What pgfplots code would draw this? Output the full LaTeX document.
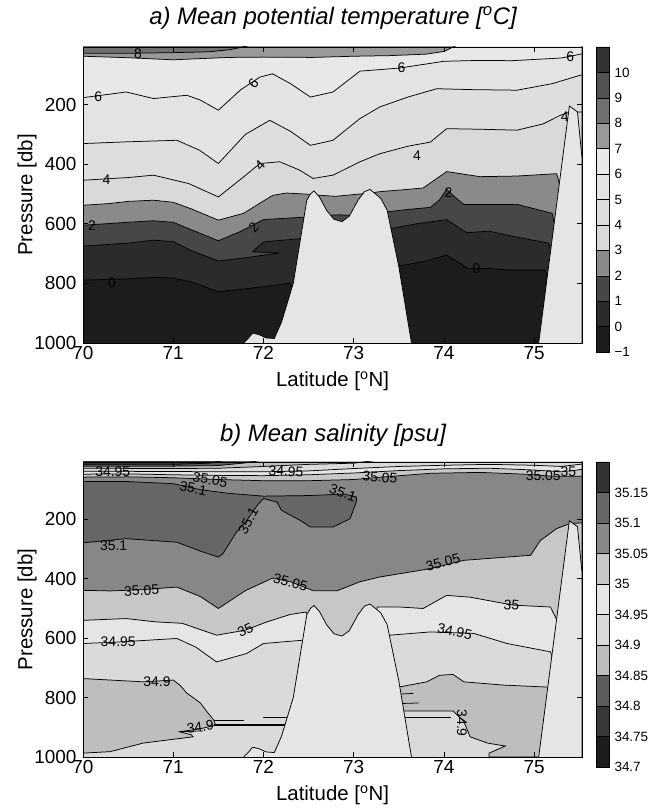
\documentclass[border=0pt]{standalone}
\usepackage{fontspec}
\setmainfont{Liberation Sans}
\usepackage{pgfplots}
\pgfplotsset{compat=1.18}

% temperature levels (lower bound of each band)
\definecolor{tm1}{gray}{0.11}
\definecolor{t0}{gray}{0.17}
\definecolor{t1}{gray}{0.28}
\definecolor{t2}{gray}{0.54}
\definecolor{t3}{gray}{0.85}
\definecolor{t4}{gray}{0.87}
\definecolor{t5}{gray}{0.89}
\definecolor{t6}{gray}{0.91}
\definecolor{t7}{gray}{0.60}
\definecolor{t8}{gray}{0.44}
\definecolor{t9}{gray}{0.32}
\definecolor{t10}{gray}{0.20}
% salinity levels
\definecolor{s700}{gray}{0.11}
\definecolor{s750}{gray}{0.22}
\definecolor{s800}{gray}{0.36}
\definecolor{s850}{gray}{0.745}
\definecolor{s900}{gray}{0.855}
\definecolor{s950}{gray}{0.90}
\definecolor{s000}{gray}{0.78}
\definecolor{s050}{gray}{0.53}
\definecolor{s100}{gray}{0.40}
\definecolor{s150}{gray}{0.20}
\definecolor{mtn}{gray}{0.90}

\newcommand\ticksize{\fontsize{19}{19}\selectfont}
\newcommand\labsize{\fontsize{20.5}{20.5}\selectfont}
\newcommand\clab{\fontsize{14}{14}\selectfont}

\pgfplotsset{
  sect/.style={
    width=499bp, height=296bp, scale only axis, anchor=center,
    xmin=70, xmax=75.53, ymin=7, ymax=1000, y dir=reverse,
    xtick={70,71,72,73,74,75}, ytick={200,400,600,800,1000},
    tick align=inside, major tick length=5bp,
    tick style={black, line width=0.6bp},
    axis line style={line width=0.8bp},
    axis on top,
    tick label style={font=\ticksize},
    yticklabel style={xshift=-3bp},
    /pgf/number format/assume math mode=true,
    /pgf/number format/1000 sep={},
    xlabel={Latitude [\textsuperscript{o}N]},
    ylabel={Pressure [db]},
    label style={font=\labsize},
    xlabel style={at={(axis description cs:0.5,-0.13)}, anchor=center},
    ylabel style={at={(axis description cs:-0.112,0.5)}, anchor=center},
  },
  lev/.style={fill=#1, draw=black, line width=0.75bp},
  cl/.style={draw=black, line width=0.75bp},
  cbar/.style={
    width=13bp, height=305bp, scale only axis, anchor=center,
    xmin=0, xmax=1, xtick=\empty, yticklabel pos=right,
    major tick length=0pt, axis line style={line width=0.6bp},
    tick label style={font=\fontsize{13.5}{13.5}\selectfont},
    yticklabel style={xshift=2bp},
  },
}

\begin{document}
\begin{tikzpicture}[x=1bp,y=1bp]
\path[use as bounding box] (0,0) rectangle (664,808);

% ---------------- a) temperature ----------------
\begin{axis}[sect, at={(332.5bp,613bp)}, axis background/.style={fill=tm1}]
\addplot[lev=t0] coordinates {(70,789) (70.5,785) (70.78,780) (71.0,782) (71.2,795) (71.5,828) (71.9,815) (72.29,800) (72.6,900) (73.4,900) (73.5,742) (73.8,725) (74.03,705) (74.27,750) (74.5,750) (74.7,755) (75.12,755) (75.3,900) (75.53,900) (75.53,-50) (70,-50)};
\addplot[lev=t1] coordinates {(70,675) (70.5,665) (70.78,655) (71.0,660) (71.2,690) (71.5,725) (71.85,712) (72.18,698) (71.88,694) (72.0,661) (72.41,650) (72.6,800) (73.35,800) (73.41,616) (73.7,600) (74.03,586) (74.25,630) (74.5,625) (74.81,645) (75.16,665) (75.3,800) (75.53,800) (75.53,-50) (70,-50)};
\addplot[lev=t2] coordinates {(70,605) (70.5,595) (70.78,590) (71.0,595) (71.2,620) (71.5,657) (71.75,625) (72.0,586) (72.44,578) (72.55,620) (72.72,571) (72.85,570) (72.98,572) (73.1,620) (73.37,560) (73.6,552) (73.85,545) (73.95,520) (74.03,485) (74.12,510) (74.22,535) (74.81,535) (75.2,565) (75.3,700) (75.53,700) (75.53,-50) (70,-50)};
\addplot[lev=t3] coordinates {(70,538) (70.3,532) (70.5,525) (70.78,521) (71.0,528) (71.2,550) (71.5,588) (71.78,565) (71.96,531) (72.1,505) (72.25,497) (72.45,500) (72.65,505) (72.8,508) (73.0,502) (73.15,498) (73.3,492) (73.55,486) (73.77,480) (74.03,425) (74.4,442) (74.8,440) (75.25,432) (75.4,600) (75.53,600) (75.53,-50) (70,-50)};
\addplot[lev=t4] coordinates {(70,454) (70.5,445) (70.78,437) (71.17,465) (71.5,510) (71.75,450) (71.96,398) (72.18,392) (72.4,420) (72.55,448) (72.77,437) (73.07,392) (73.29,365) (73.6,340) (73.85,326) (74.03,281) (74.4,283) (74.81,286) (75.1,265) (75.29,236) (75.4,225) (75.53,225) (75.53,-50) (70,-50)};
\addplot[lev=t5] coordinates {(70,331) (70.5,325) (71.04,320) (71.29,353) (71.5,398) (71.8,300) (72.07,253) (72.3,290) (72.52,337) (72.77,320) (73.07,247) (73.29,208) (73.6,175) (73.92,147) (74.3,150) (74.81,152) (75.2,130) (75.53,100) (75.53,-50) (70,-50)};
\addplot[lev=t6] coordinates {(70,177) (70.48,158) (70.78,180) (71.15,169) (71.3,185) (71.5,219) (71.75,150) (71.96,108) (72.1,97) (72.3,130) (72.52,175) (72.77,158) (73.07,88) (73.5,78) (74.0,55) (74.4,52) (74.75,53) (75.3,44) (75.45,35) (75.53,30) (75.53,-50) (70,-50)};
\addplot[lev=t7] coordinates {(70,38) (70.5,43) (71.0,50) (71.3,46) (71.63,42) (72.0,41) (72.55,42) (73.0,38) (73.4,36) (73.8,31) (74.0,22) (74.15,0) (75.53,-50) (70,-50)};
\addplot[lev=t8] coordinates {(70,28) (70.5,28) (71.0,26) (71.4,23) (71.63,16) (71.88,0) (70,-50)};
% bathymetry
\addplot[fill=mtn, draw=black, line width=0.75bp] coordinates {(71.78,1000) (71.83,985) (71.88,967) (71.95,972) (72.03,983) (72.12,985) (72.2,930) (72.33,800) (72.48,521) (72.52,500) (72.56,490) (72.62,510) (72.7,555) (72.78,585) (72.87,593) (72.95,575) (73.05,520) (73.12,492) (73.18,485) (73.25,502) (73.3,515) (73.37,554) (73.5,744) (73.64,1000)};
\addplot[fill=mtn, draw=black, line width=0.75bp] coordinates {(75.05,1000) (75.39,205) (75.48,225) (75.53,380) (75.53,1000)};
% contour labels
\node[font=\clab] at (axis cs:70.61,28) {8};
\node[font=\clab] at (axis cs:70.17,175) {6};
\node[font=\clab, rotate=50] at (axis cs:71.89,128) {6};
\node[font=\clab] at (axis cs:73.53,78) {6};
\node[font=\clab] at (axis cs:75.4,40) {6};
\node[font=\clab] at (axis cs:70.26,452) {4};
\node[font=\clab, rotate=45] at (axis cs:71.96,405) {4};
\node[font=\clab] at (axis cs:73.7,373) {4};
\node[font=\clab] at (axis cs:75.34,240) {4};
\node[font=\clab] at (axis cs:70.1,605) {2};
\node[font=\clab, rotate=45] at (axis cs:71.89,612) {2};
\node[font=\clab] at (axis cs:74.05,495) {2};
\node[font=\clab] at (axis cs:70.32,797) {0};
\node[font=\clab] at (axis cs:74.36,752) {0};
\end{axis}

\begin{axis}[cbar, at={(602.5bp,608.5bp)}, ymin=-1, ymax=11,
  ytick={-1,0,1,2,3,4,5,6,7,8,9,10},
  yticklabels={−1,0,1,2,3,4,5,6,7,8,9,10}]
\addplot[fill=tm1, draw=black] coordinates {(0,-1) (1,-1) (1,0) (0,0) (0,-1)};
\addplot[fill=t0, draw=black] coordinates {(0,0) (1,0) (1,1) (0,1) (0,0)};
\addplot[fill=t1, draw=black] coordinates {(0,1) (1,1) (1,2) (0,2) (0,1)};
\addplot[fill=t2, draw=black] coordinates {(0,2) (1,2) (1,3) (0,3) (0,2)};
\addplot[fill=t3, draw=black] coordinates {(0,3) (1,3) (1,4) (0,4) (0,3)};
\addplot[fill=t4, draw=black] coordinates {(0,4) (1,4) (1,5) (0,5) (0,4)};
\addplot[fill=t5, draw=black] coordinates {(0,5) (1,5) (1,6) (0,6) (0,5)};
\addplot[fill=t6, draw=black] coordinates {(0,6) (1,6) (1,7) (0,7) (0,6)};
\addplot[fill=t7, draw=black] coordinates {(0,7) (1,7) (1,8) (0,8) (0,7)};
\addplot[fill=t8, draw=black] coordinates {(0,8) (1,8) (1,9) (0,9) (0,8)};
\addplot[fill=t9, draw=black] coordinates {(0,9) (1,9) (1,10) (0,10) (0,9)};
\addplot[fill=t10, draw=black] coordinates {(0,10) (1,10) (1,11) (0,11) (0,10)};
\end{axis}

% ---------------- b) salinity ----------------
\begin{axis}[sect, at={(332.5bp,198.5bp)}, height=295bp, axis background/.style={fill=s900}]
\addplot[lev=s950] coordinates {(70,618) (70.39,613) (71.04,601) (71.25,630) (71.48,680) (71.81,652) (72.0,618) (72.43,607) (72.7,700) (73.3,700) (73.4,590) (73.85,579) (74.33,584) (74.7,618) (75.18,646) (75.35,800) (75.53,800) (75.53,-50) (70,-50)};
\addplot[lev=s000] coordinates {(70,540) (70.48,534) (70.8,545) (71.1,550) (71.48,590) (71.8,573) (72.04,545) (72.3,520) (72.47,512) (72.8,650) (73.2,650) (73.26,495) (73.5,495) (73.77,500) (74.03,456) (74.29,462) (74.77,489) (75.18,495) (75.35,600) (75.53,600) (75.53,-50) (70,-50)};
\addplot[lev=s050] coordinates {(70,439) (70.3,441) (70.65,437) (71.04,428) (71.3,460) (71.5,500) (71.8,440) (72.1,398) (72.3,410) (72.55,440) (72.82,440) (73.07,410) (73.29,394) (73.85,366) (74.22,338) (74.96,321) (75.07,271) (75.25,231) (75.4,214) (75.53,212) (75.53,-50) (70,-50)};
% 35.1 core
\addplot[lev=s100] coordinates {(70,73) (70.5,73) (71.0,80) (71.3,100) (71.6,112) (72.0,122) (72.5,120) (72.9,115) (73.03,125) (73.03,140) (72.96,198) (72.77,226) (72.52,226) (72.41,204) (72.2,170) (72.15,142) (72.0,130) (71.93,153) (71.8,210) (71.7,243) (71.55,316) (71.5,327) (71.33,310) (71.04,277) (70.48,265) (70,279)};
% fresher surface layer
\addplot[lev=s000] coordinates {(70,58) (70.5,57) (71.0,60) (71.5,66) (72.0,70) (72.5,70) (73.0,66) (73.3,58) (73.85,45) (74.4,42) (74.9,48) (75.2,55) (75.53,55) (75.53,-50) (70,-50)};
\addplot[lev=s950] coordinates {(70,48) (70.5,47) (71.0,50) (71.5,52) (72.0,53) (72.5,50) (73.0,44) (73.5,36) (74.0,30) (74.5,28) (75.0,34) (75.3,40) (75.53,32) (75.53,-50) (70,-50)};
\addplot[lev=s900] coordinates {(70,38) (71.0,39) (71.5,40) (72.0,40) (72.5,37) (73.0,29) (73.5,22) (74.0,18) (74.5,15) (75.0,18) (75.3,22) (75.53,14) (75.53,-50) (70,-50)};
\addplot[lev=s850] coordinates {(70,28) (71.0,29) (71.5,28) (72.0,22) (72.5,15) (73.0,11) (73.3,0) (70,-50)};
\addplot[lev=s800] coordinates {(70,21) (71.0,21) (71.5,19) (71.8,10) (72.0,0) (70,-50)};
\addplot[lev=s750] coordinates {(70,15) (71.0,15) (71.4,11) (71.6,0) (70,-50)};
% deep 34.85-34.9 water
\addplot[lev=s850] coordinates {(70,736) (70.67,747) (71.0,741) (71.08,760) (71.15,785) (71.22,800) (71.3,818) (71.38,850) (71.45,876) (71.47,893) (71.3,905) (71.07,915) (71.2,925) (71.22,932) (70.67,953) (70.3,982) (70,987)};
\addplot[lev=s850] coordinates {(73.51,764) (73.81,747) (73.95,725) (74.1,722) (74.22,747) (74.66,758) (75.1,764) (75.2,764) (75.2,1000) (74.5,1000) (74.5,987) (74.68,963) (74.48,953) (74.29,932) (74.22,880) (74.1,845) (73.55,845)};
\addplot[cl] coordinates {(71.45,878) (71.78,878)};
\addplot[cl] coordinates {(71.45,889) (72.26,889)};
\addplot[cl] coordinates {(71.45,894) (72.26,894)};
\addplot[cl] coordinates {(72.0,867) (72.26,867)};
\addplot[cl] coordinates {(71.07,915) (71.33,912)};
\addplot[cl] coordinates {(73.53,788) (73.66,786)};
\addplot[cl] coordinates {(73.53,820) (73.72,818)};
\addplot[cl] coordinates {(73.56,867) (74.08,867)};
% bathymetry
\addplot[fill=mtn, draw=black, line width=0.75bp] coordinates {(71.78,1000) (71.83,985) (71.88,967) (71.95,972) (72.03,983) (72.12,985) (72.2,930) (72.33,800) (72.48,521) (72.52,500) (72.56,490) (72.62,510) (72.7,555) (72.78,585) (72.87,593) (72.95,575) (73.05,520) (73.12,492) (73.18,485) (73.25,502) (73.3,515) (73.37,554) (73.5,744) (73.64,1000)};
\addplot[fill=mtn, draw=black, line width=0.75bp] coordinates {(75.05,1000) (75.39,205) (75.48,225) (75.53,380) (75.53,1000)};
% contour labels
\node[font=\clab] at (axis cs:70.33,39) {34.95};
\node[font=\clab, rotate=-10] at (axis cs:71.41,67) {35.05};
\node[font=\clab, rotate=-12] at (axis cs:71.22,96) {35.1};
\node[font=\clab, rotate=-3] at (axis cs:72.25,38) {34.95};
\node[font=\clab, rotate=62] at (axis cs:71.83,205) {35.1};
\node[font=\clab] at (axis cs:70.34,289) {35.1};
\node[font=\clab, rotate=-20] at (axis cs:72.88,110) {35.1};
\node[font=\clab, rotate=-5] at (axis cs:73.29,58) {35.05};
\node[font=\clab] at (axis cs:75.1,52) {35.05};
\node[font=\clab] at (axis cs:75.38,40) {35};
\node[font=\clab, rotate=3] at (axis cs:70.65,440) {35.05};
\node[font=\clab, rotate=-15] at (axis cs:72.3,413) {35.05};
\node[font=\clab, rotate=15] at (axis cs:73.99,345) {35.05};
\node[font=\clab, rotate=-5] at (axis cs:74.75,489) {35};
\node[font=\clab, rotate=25] at (axis cs:71.8,573) {35};
\node[font=\clab, rotate=-12] at (axis cs:74.12,578) {34.95};
\node[font=\clab] at (axis cs:70.39,613) {34.95};
\node[font=\clab] at (axis cs:70.82,748) {34.9};
\node[font=\clab, rotate=8] at (axis cs:71.3,899) {34.9};
\node[font=\clab, rotate=-90] at (axis cs:74.2,886) {34.9};
\end{axis}

\begin{axis}[cbar, at={(602.5bp,193.5bp)}, ymin=34.7, ymax=35.2,
  ytick={34.7,34.75,34.8,34.85,34.9,34.95,35,35.05,35.1,35.15},
  yticklabels={34.7,34.75,34.8,34.85,34.9,34.95,35,35.05,35.1,35.15}]
\addplot[fill=s700, draw=black] coordinates {(0,34.7) (1,34.7) (1,34.75) (0,34.75) (0,34.7)};
\addplot[fill=s750, draw=black] coordinates {(0,34.75) (1,34.75) (1,34.8) (0,34.8) (0,34.75)};
\addplot[fill=s800, draw=black] coordinates {(0,34.8) (1,34.8) (1,34.85) (0,34.85) (0,34.8)};
\addplot[fill=s850, draw=black] coordinates {(0,34.85) (1,34.85) (1,34.9) (0,34.9) (0,34.85)};
\addplot[fill=s900, draw=black] coordinates {(0,34.9) (1,34.9) (1,34.95) (0,34.95) (0,34.9)};
\addplot[fill=s950, draw=black] coordinates {(0,34.95) (1,34.95) (1,35) (0,35) (0,34.95)};
\addplot[fill=s000, draw=black] coordinates {(0,35) (1,35) (1,35.05) (0,35.05) (0,35)};
\addplot[fill=s050, draw=black] coordinates {(0,35.05) (1,35.05) (1,35.1) (0,35.1) (0,35.05)};
\addplot[fill=s100, draw=black] coordinates {(0,35.1) (1,35.1) (1,35.15) (0,35.15) (0,35.1)};
\addplot[fill=s150, draw=black] coordinates {(0,35.15) (1,35.15) (1,35.2) (0,35.2) (0,35.15)};
\end{axis}

\node[font=\fontsize{24}{24}\selectfont\itshape] at (333,790) {a) Mean potential temperature [\textsuperscript{o}C]};
\node[font=\fontsize{24}{24}\selectfont\itshape] at (333,373) {b) Mean salinity [psu]};
\end{tikzpicture}
\end{document}
